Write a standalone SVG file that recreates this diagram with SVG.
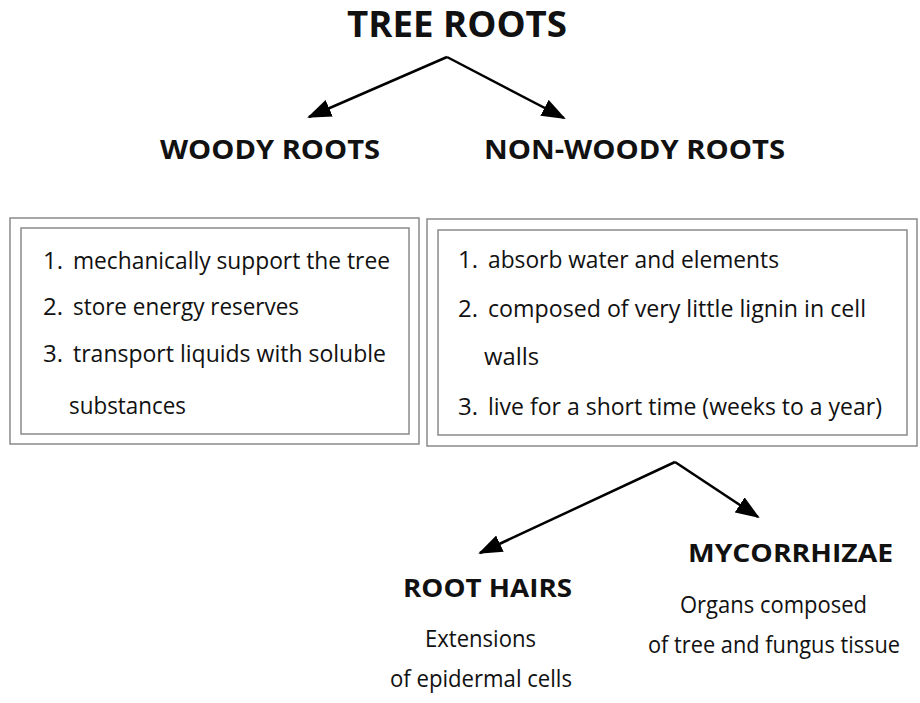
<svg xmlns="http://www.w3.org/2000/svg" width="920" height="703" viewBox="0 0 920 703">
<style>
text{font-family:"Open Sans","Noto Sans",sans-serif;fill:#111}
.title{font-size:35px;font-weight:bold}
.head{font-size:26px;font-weight:bold}
.sub{font-size:25px;font-weight:bold}
.body{font-size:24px}
.box{fill:none;stroke:#8a8a8a;stroke-width:1.5}
.conn{stroke:#000;stroke-width:2.5;fill:none;marker-end:url(#ah)}
</style>
<defs>
<marker id="ah" viewBox="0 0 24 18" refX="22" refY="9" markerWidth="24" markerHeight="18" markerUnits="userSpaceOnUse" orient="auto">
<path d="M0,0 L24,9 L0,18 z" fill="#000"/>
</marker>
</defs>
<rect width="920" height="703" fill="#fff"/>
<g id="connectors">
<line class="conn" x1="447" y1="57" x2="309" y2="117"/>
<line class="conn" x1="447" y1="57" x2="564" y2="118"/>
<line class="conn" x1="675" y1="462" x2="480" y2="553"/>
<line class="conn" x1="675" y1="462" x2="758" y2="517"/>
</g>
<g id="tree-roots">
<text class="title" x="347" y="37" textLength="220" lengthAdjust="spacingAndGlyphs">TREE ROOTS</text>
</g>
<g id="woody-roots">
<text class="head" x="160" y="159" textLength="220" lengthAdjust="spacingAndGlyphs">WOODY ROOTS</text>
</g>
<g id="non-woody-roots">
<text class="head" x="484" y="159" textLength="301" lengthAdjust="spacingAndGlyphs">NON-WOODY ROOTS</text>
</g>
<g id="woody-box">
<rect class="box" x="10" y="218" width="409" height="226"/>
<rect class="box" x="21" y="228" width="388" height="206"/>
<text class="body" x="43" y="269">1.</text>
<text class="body" x="73" y="269" textLength="317" lengthAdjust="spacingAndGlyphs">mechanically support the tree</text>
<text class="body" x="43" y="315">2.</text>
<text class="body" x="73" y="315" textLength="226" lengthAdjust="spacingAndGlyphs">store energy reserves</text>
<text class="body" x="43" y="362">3.</text>
<text class="body" x="73" y="362" textLength="313" lengthAdjust="spacingAndGlyphs">transport liquids with soluble</text>
<text class="body" x="69" y="414" textLength="117" lengthAdjust="spacingAndGlyphs">substances</text>
</g>
<g id="non-woody-box">
<rect class="box" x="427" y="219" width="490" height="227"/>
<rect class="box" x="438" y="230" width="469" height="205"/>
<text class="body" x="458" y="268">1.</text>
<text class="body" x="488" y="268" textLength="291" lengthAdjust="spacingAndGlyphs">absorb water and elements</text>
<text class="body" x="458" y="317">2.</text>
<text class="body" x="488" y="317" textLength="378" lengthAdjust="spacingAndGlyphs">composed of very little lignin in cell</text>
<text class="body" x="484" y="365" textLength="55" lengthAdjust="spacingAndGlyphs">walls</text>
<text class="body" x="458" y="415">3.</text>
<text class="body" x="488" y="415" textLength="394" lengthAdjust="spacingAndGlyphs">live for a short time (weeks to a year)</text>
</g>
<g id="root-hairs">
<text class="sub" x="403" y="597" textLength="169" lengthAdjust="spacingAndGlyphs">ROOT HAIRS</text>
<text class="body" x="425" y="647" textLength="111" lengthAdjust="spacingAndGlyphs">Extensions</text>
<text class="body" x="390" y="687" textLength="182" lengthAdjust="spacingAndGlyphs">of epidermal cells</text>
</g>
<g id="mycorrhizae">
<text class="sub" x="688" y="562" textLength="205" lengthAdjust="spacingAndGlyphs">MYCORRHIZAE</text>
<text class="body" x="680" y="613" textLength="187" lengthAdjust="spacingAndGlyphs">Organs composed</text>
<text class="body" x="648" y="653" textLength="252" lengthAdjust="spacingAndGlyphs">of tree and fungus tissue</text>
</g>
</svg>
